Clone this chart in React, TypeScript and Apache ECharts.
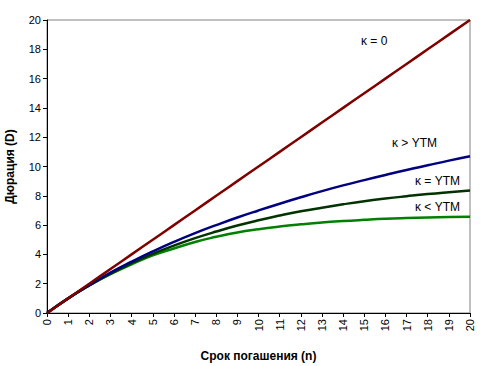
import React, { useEffect, useRef } from "react";
import * as echarts from "echarts";

const maturities = [0, 1, 2, 3, 4, 5, 6, 7, 8, 9, 10, 11, 12, 13, 14, 15, 16, 17, 18, 19, 20];
const kappaZero = [0, 1, 2, 3, 4, 5, 6, 7, 8, 9, 10, 11, 12, 13, 14, 15, 16, 17, 18, 19, 20];
const kappaAbove = [0, 1.0, 1.9, 2.75, 3.5, 4.2, 4.85, 5.45, 6.0, 6.52, 7.0, 7.46, 7.9, 8.32, 8.71, 9.07, 9.42, 9.76, 10.08, 10.4, 10.7];
const kappaEqual = [0, 1.0, 1.89, 2.69, 3.4, 4.04, 4.6, 5.11, 5.56, 5.97, 6.33, 6.65, 6.94, 7.19, 7.42, 7.63, 7.81, 7.97, 8.12, 8.25, 8.37];
const kappaBelow = [0, 1.0, 1.88, 2.65, 3.32, 3.93, 4.4, 4.85, 5.2, 5.5, 5.72, 5.9, 6.05, 6.18, 6.28, 6.36, 6.43, 6.48, 6.52, 6.55, 6.57];
const seriesNames = ["κ = 0", "κ > YTM", "κ = YTM", "κ < YTM"];
const seriesColors = ["#800000", "#000080", "#003300", "#008000"];

export default function App() {
  const ref = useRef<HTMLDivElement>(null);
  useEffect(() => {
    if (!ref.current) return;
    const chart = echarts.init(ref.current, null, { renderer: "svg" });
    const all = [kappaZero, kappaAbove, kappaEqual, kappaBelow];
    const font = "Liberation Sans, Arial, sans-serif";
    chart.setOption({
      animation: false,
      backgroundColor: "#ffffff",
      grid: {
        left: 47, right: 17, top: 20, bottom: 53,
        containLabel: false, outerBoundsMode: "none",
        show: true, borderColor: "#808080", borderWidth: 1,
      },
      xAxis: {
        type: "value",
        min: 0,
        max: 20,
        interval: 1,
        name: "Срок погашения (n)",
        nameLocation: "middle",
        nameGap: 37,
        nameTextStyle: { fontFamily: font, fontSize: 12, fontWeight: "bold", color: "#000" },
        axisLine: { show: true, lineStyle: { color: "#000", width: 1 } },
        axisTick: { show: true, length: 4, lineStyle: { color: "#000" } },
        axisLabel: { rotate: 90, fontFamily: font, fontSize: 11, color: "#000", margin: 6 },
        splitLine: { show: false },
      },
      yAxis: {
        type: "value",
        min: 0,
        max: 20,
        interval: 2,
        name: "Дюрация (D)",
        nameLocation: "middle",
        nameGap: 31,
        nameTextStyle: { fontFamily: font, fontSize: 12, fontWeight: "bold", color: "#000" },
        axisLine: { show: true, lineStyle: { color: "#000", width: 1 } },
        axisTick: { show: true, length: 4, lineStyle: { color: "#000" } },
        axisLabel: { fontFamily: font, fontSize: 11, color: "#000", margin: 6 },
        splitLine: { show: false },
      },
      series: all.map((vals, i) => ({
        name: seriesNames[i],
        type: "line",
        data: maturities.map((n, j) => [n, vals[j]]),
        smooth: true,
        symbol: "none",
        lineStyle: { color: seriesColors[i], width: 2.5 },
        z: 10 - i,
      })),
      graphic: [
        { type: "text", left: 361, top: 35, style: { text: "κ = 0", font: `12px ${font}`, fill: "#000" } },
        { type: "text", left: 392, top: 137, style: { text: "κ > YTM", font: `12px ${font}`, fill: "#000" } },
        { type: "text", left: 415, top: 175, style: { text: "κ = YTM", font: `12px ${font}`, fill: "#000" } },
        { type: "text", left: 415, top: 201, style: { text: "κ < YTM", font: `12px ${font}`, fill: "#000" } },
      ],
    });
    return () => chart.dispose();
  }, []);
  return <div ref={ref} style={{ position: "absolute", left: 0, top: 0, width: 487, height: 366 }} />;
}
